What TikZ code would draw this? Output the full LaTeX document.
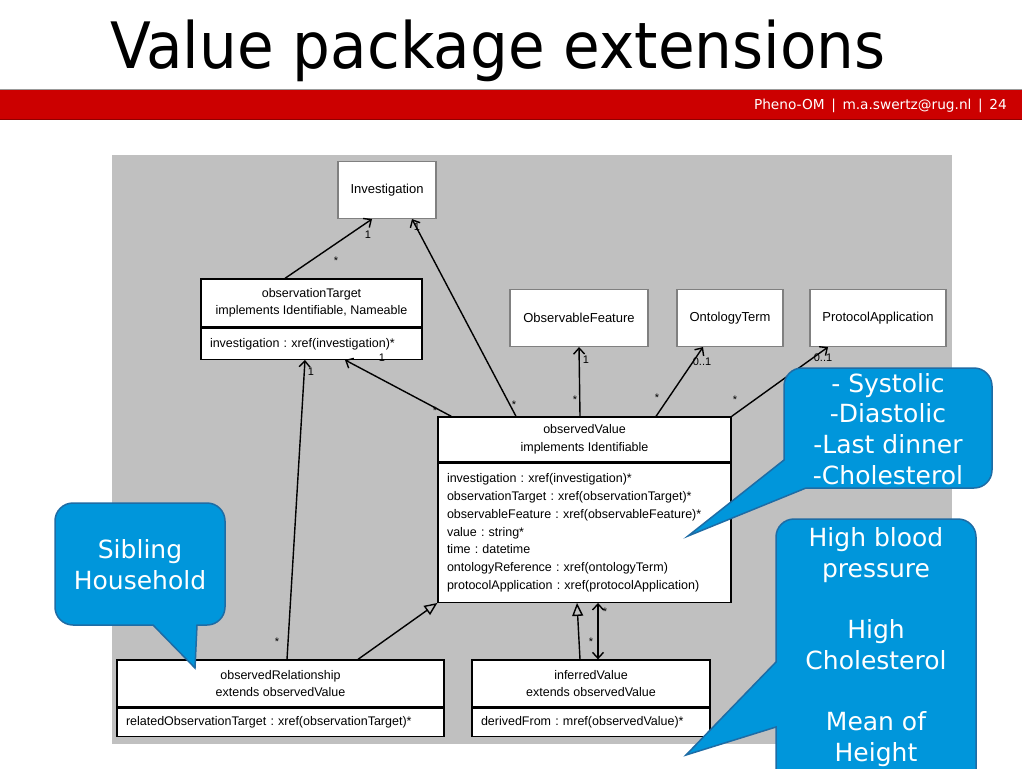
\documentclass[tikz,border=0pt]{standalone}
\usepackage{fontspec}
\setmainfont{Liberation Sans}
\newfontfamily\slidefont{DejaVu Sans}
\newfontfamily\titlefont[FakeStretch=0.932]{DejaVu Sans}
\usetikzlibrary{positioning,arrows.meta}
\definecolor{slidered}{RGB}{204,0,0}
\definecolor{umlgray}{RGB}{192,192,192}
\definecolor{callblue}{RGB}{0,150,219}
\definecolor{callrim}{RGB}{30,108,165}
\frenchspacing

\begin{document}
\begin{tikzpicture}[x=1pt, y=-1pt, >={Straight Barb[length=6pt,width=11pt]},
  simplebox/.style={draw=black!50, line width=1.1pt, fill=white, inner sep=0pt, font=\fontsize{13}{15}\selectfont},
  classhead/.style={draw=black, line width=1.3pt, fill=white, inner sep=0pt, align=center, font=\fontsize{12.5}{17.5}\selectfont},
  classattr/.style={draw=black, line width=1.3pt, fill=white, inner xsep=9pt, inner ysep=0pt, align=left, font=\fontsize{12.5}{17.8}\selectfont},
  mult/.style={inner sep=0pt, font=\fontsize{11}{11}\selectfont},
  assoc/.style={line width=1.4pt, ->},
  gen/.style={line width=1.4pt, -{Triangle[open,length=13pt,width=11pt]}},
  callout/.style={fill=callblue, draw=callrim, line width=1.5pt},
  calltext/.style={text=white, align=center, inner sep=0pt, font=\slidefont\fontsize{25}{30.7}\selectfont}]
         \clip (0,0) rectangle (1024,768);
         \fill[white] (0,0) rectangle (1024,768);
         \node[anchor=base west, inner sep=0pt, font=\titlefont\fontsize{64}{64}\selectfont] (title) at (110,68) {Value package extensions};
         \fill[slidered] (0,89) rectangle (1022,119);
         \draw[black!40, line width=1pt] (0,89) -- (1022,89);
         \draw[slidered!70!black, line width=1pt] (0,119) -- (1022,119);
         \node[anchor=base east, inner sep=0pt, text=white, font=\slidefont\fontsize{13.7}{14}\selectfont] (footer) at (1007,109) {Pheno-OM \,|\, m.a.swertz@rug.nl \,|\, 24};
         \fill[umlgray] (112,155) rectangle (952,744);
         \node[simplebox, minimum width=98pt, minimum height=57pt] (inv) at (387,190) {Investigation};
         \node[simplebox, minimum width=138pt, minimum height=57pt] (feat) at (579,318) {ObservableFeature};
         \node[simplebox, minimum width=106pt, minimum height=57pt] (onto) at (730,318) {OntologyTerm};
         \node[simplebox, minimum width=136pt, minimum height=57pt] (proto) at (878,318) {ProtocolApplication};
         \node[classhead, minimum width=221pt, minimum height=48pt] (tgt) at (311.5,303) {observationTarget\\implements Identifiable, Nameable};
         \node[classattr, text width=203pt, minimum height=31pt, below=0pt of tgt] (tgtattr) {investigation : xref(investigation)*};
         \node[classhead, minimum width=293pt, minimum height=45pt] (ov) at (584.5,439.5) {observedValue\\implements Identifiable};
         \node[classattr, text width=275pt, minimum height=139pt, below=0pt of ov] (ovattr) {investigation : xref(investigation)*\\observationTarget : xref(observationTarget)*\\observableFeature : xref(observableFeature)*\\value : string*\\time : datetime\\ontologyReference : xref(ontologyTerm)\\protocolApplication : xref(protocolApplication)};
         \node[classhead, minimum width=327pt, minimum height=47pt] (rel) at (280.5,683.5) {observedRelationship\\extends observedValue};
         \node[classattr, text width=309pt, minimum height=28pt, below=0pt of rel] (relattr) {relatedObservationTarget : xref(observationTarget)*};
         \node[classhead, minimum width=238pt, minimum height=47pt] (inf) at (591,683.5) {inferredValue\\extends observedValue};
         \node[classattr, text width=220pt, minimum height=28pt, below=0pt of inf] (infattr) {derivedFrom : mref(observedValue)*};
         \draw[assoc] ([xshift=-26.5pt]tgt.north) -- ([xshift=-15pt]inv.south);
         \draw[assoc] ([xshift=-68.5pt]ov.north) -- ([xshift=25pt]inv.south);
         \draw[assoc] ([xshift=14pt]ov.north west) -- ([xshift=33.5pt]tgtattr.south);
         \draw[assoc] ([xshift=6.5pt]rel.north) -- ([xshift=-6.5pt]tgtattr.south);
         \draw[assoc] ([xshift=-4.5pt]ov.north) -- (feat.south);
         \draw[assoc] ([xshift=71.5pt]ov.north) -- ([xshift=-27pt]onto.south);
         \draw[assoc] (ov.north east) -- ([xshift=-50pt]proto.south);
         \draw[gen] ([xshift=77.5pt]rel.north) -- (ovattr.south west);
         \draw[gen] ([xshift=-11pt]inf.north) -- ([xshift=-7.5pt]ovattr.south);
         \draw[line width=1.4pt, <->] ([xshift=7pt]inf.north) -- ([xshift=13.5pt]ovattr.south);
         \node[mult] (m1) at (336,261) {*};
         \node[mult] (m2) at (368,235) {1};
         \node[mult] (m3) at (417,227) {1};
         \node[mult] (m4) at (514,405) {*};
         \node[mult] (m5) at (435,411) {*};
         \node[mult] (m6) at (382,358) {1};
         \node[mult] (m7) at (277,642) {*};
         \node[mult] (m8) at (311,372) {1};
         \node[mult] (m9) at (575,400) {*};
         \node[mult] (m10) at (586,360) {1};
         \node[mult] (m11) at (657,398) {*};
         \node[mult] (m12) at (702,362) {0..1};
         \node[mult] (m13) at (735,400) {*};
         \node[mult] (m14) at (823,358) {0..1};
         \node[mult] (m15) at (605,612) {*};
         \node[mult] (m16) at (591,642) {*};
         \draw[callout] (688,536) -- (784,460) [rounded corners=18pt] -- (784,368) -- (992,368) -- (992,488) [sharp corners] -- (806,488) -- cycle;
         \node[calltext] (vars) at (888,429) {- Systolic\\-Diastolic\\-Last dinner\\-Cholesterol};
         \draw[callout] (686,755) -- (776,662) [rounded corners=18pt] -- (776,519) -- (976,519) -- (976,800) [sharp corners] -- (776,800) -- (776,727) -- cycle;
         \node[calltext] (traits) at (876,647) {High blood\\pressure\\ \\High\\Cholesterol\\ \\Mean of\\Height};
         \draw[callout] (195,668) -- (153,625) [rounded corners=18pt] -- (55,625) -- (55,503) -- (225,503) -- (225,625) [sharp corners] -- (197,625) -- cycle;
         \node[calltext] (kin) at (140,565) {Sibling\\Household};
 \end{tikzpicture}
\end{document}
